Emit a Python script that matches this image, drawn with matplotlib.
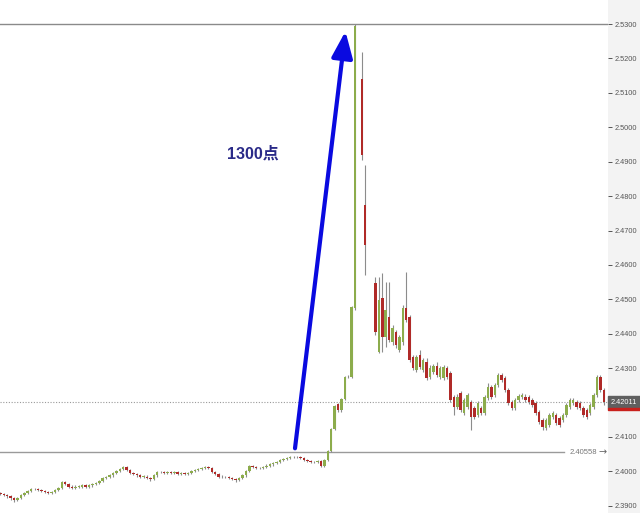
import matplotlib
matplotlib.use("Agg")
import matplotlib.pyplot as plt
from matplotlib.patches import Rectangle

# OHLC per bar (None = no bar)
opens = [
    2.3936, 2.3933, 2.3930, 2.3927, 2.3922, 2.3916, 2.3922, 2.3930, 2.3936, 2.3942,
    2.3948, 2.3948, 2.3945, 2.3942, 2.3939, 2.3936, 2.3939, 2.3945, 2.3953, 2.3968,
    2.3962, 2.3956, 2.3953, 2.3956, 2.3956, 2.3959, 2.3956, 2.3959, 2.3962, 2.3965,
    2.3971, 2.3980, 2.3983, 2.3988, 2.3994, 2.4000, 2.4006, 2.4012, 2.4003, 2.3994,
    2.3991, 2.3988, 2.3985, 2.3985, 2.3980, 2.3977, 2.3988, 2.3997, 2.3997, 2.3994,
    2.3997, 2.3994, 2.3997, 2.3991, 2.3994, 2.3991, 2.3994, 2.4000, 2.4003, 2.4006,
    2.4009, 2.4012, 2.4009, 2.3997, 2.3991, 2.3985, 2.3983, 2.3983, 2.3980, 2.3977,
    2.3974, 2.3980, 2.3988, 2.4000, 2.4015, 2.4012, 2.4009, 2.4009, 2.4012, 2.4017,
    2.4020, 2.4023, 2.4026, 2.4032, 2.4035, 2.4038, 2.4041, 2.4041, 2.4041, 2.4038,
    2.4032, 2.4029, 2.4026, 2.4026, 2.4029, 2.4017, 2.4032, 2.4058, 2.4122, 2.4195,
    2.4177, 2.4209, 2.4273, 2.4275, 2.4474, None, 2.5140, 2.4774, None, None,
    2.4547, 2.4347, 2.4503, 2.4390, 2.4448, 2.4376, 2.4405, 2.4352, 2.4376, 2.4474,
    2.4448, 2.4332, 2.4294, 2.4338, 2.4294, 2.4317, 2.4274, 2.4288, 2.4306, 2.4274,
    2.4271, 2.4300, 2.4285, 2.4216, 2.4187, 2.4227, 2.4169, 2.4187, 2.4201, 2.4184,
    2.4163, 2.4184, 2.4169, 2.4213, 2.4245, 2.4221, 2.4251, 2.4280, 2.4271, 2.4236,
    2.4201, 2.4184, 2.4207, 2.4216, 2.4216, 2.4216, 2.4207, 2.4198, 2.4172, 2.4149,
    2.4126, 2.4134, 2.4158, 2.4163, 2.4155, 2.4149, 2.4163, 2.4187, 2.4198, 2.4201,
    2.4198, 2.4184, 2.4178, 2.4169, 2.4187, 2.4221, 2.4274, 2.4236,
]
highs = [
    2.3939, 2.3936, 2.3933, 2.3930, 2.3925, 2.3925, 2.3933, 2.3939, 2.3945, 2.3951,
    2.3952, 2.3951, 2.3948, 2.3945, 2.3942, 2.3942, 2.3948, 2.3956, 2.3972, 2.3971,
    2.3965, 2.3959, 2.3959, 2.3960, 2.3962, 2.3962, 2.3962, 2.3965, 2.3968, 2.3974,
    2.3983, 2.3986, 2.3991, 2.3997, 2.4003, 2.4009, 2.4016, 2.4015, 2.4006, 2.3997,
    2.3994, 2.3991, 2.3989, 2.3988, 2.3983, 2.3991, 2.4000, 2.4001, 2.4000, 2.4000,
    2.4000, 2.4000, 2.4000, 2.3997, 2.3997, 2.3997, 2.4003, 2.4006, 2.4009, 2.4012,
    2.4016, 2.4015, 2.4012, 2.4000, 2.3994, 2.3988, 2.3987, 2.3986, 2.3983, 2.3980,
    2.3983, 2.3991, 2.4003, 2.4018, 2.4018, 2.4015, 2.4013, 2.4015, 2.4020, 2.4023,
    2.4026, 2.4029, 2.4035, 2.4038, 2.4041, 2.4044, 2.4045, 2.4045, 2.4044, 2.4041,
    2.4035, 2.4032, 2.4030, 2.4032, 2.4032, 2.4035, 2.4061, 2.4125, 2.4192, 2.4198,
    2.4212, 2.4276, 2.4279, 2.4480, 2.5300, None, 2.5219, 2.4890, None, None,
    2.4565, 2.4565, 2.4576, 2.4550, 2.4550, 2.4425, 2.4410, 2.4396, 2.4483, 2.4579,
    2.4454, 2.4338, 2.4338, 2.4352, 2.4329, 2.4329, 2.4309, 2.4312, 2.4317, 2.4306,
    2.4309, 2.4306, 2.4291, 2.4221, 2.4224, 2.4233, 2.4213, 2.4227, 2.4207, 2.4189,
    2.4204, 2.4189, 2.4221, 2.4256, 2.4251, 2.4256, 2.4285, 2.4285, 2.4277, 2.4242,
    2.4207, 2.4213, 2.4224, 2.4227, 2.4224, 2.4221, 2.4213, 2.4204, 2.4178, 2.4155,
    2.4155, 2.4169, 2.4175, 2.4169, 2.4161, 2.4169, 2.4198, 2.4213, 2.4213, 2.4207,
    2.4204, 2.4189, 2.4184, 2.4198, 2.4227, 2.4280, 2.4280, 2.4242,
]
lows = [
    2.3930, 2.3927, 2.3924, 2.3918, 2.3912, 2.3913, 2.3919, 2.3927, 2.3933, 2.3939,
    2.3945, 2.3942, 2.3939, 2.3936, 2.3933, 2.3933, 2.3936, 2.3942, 2.3950, 2.3959,
    2.3953, 2.3950, 2.3950, 2.3953, 2.3953, 2.3953, 2.3953, 2.3956, 2.3959, 2.3962,
    2.3968, 2.3977, 2.3980, 2.3985, 2.3991, 2.3997, 2.4003, 2.4000, 2.3991, 2.3988,
    2.3985, 2.3982, 2.3982, 2.3977, 2.3973, 2.3974, 2.3985, 2.3994, 2.3991, 2.3991,
    2.3991, 2.3991, 2.3988, 2.3988, 2.3988, 2.3988, 2.3991, 2.3997, 2.4000, 2.4003,
    2.4006, 2.4006, 2.3994, 2.3988, 2.3982, 2.3980, 2.3980, 2.3977, 2.3974, 2.3970,
    2.3971, 2.3977, 2.3985, 2.3997, 2.4009, 2.4006, 2.4006, 2.4006, 2.4009, 2.4014,
    2.4017, 2.4020, 2.4023, 2.4029, 2.4032, 2.4035, 2.4038, 2.4038, 2.4035, 2.4029,
    2.4026, 2.4023, 2.4023, 2.4023, 2.4014, 2.4014, 2.4029, 2.4055, 2.4119, 2.4174,
    2.4174, 2.4206, 2.4270, 2.4272, 2.4469, None, 2.4905, 2.4570, None, None,
    2.4396, 2.4344, 2.4347, 2.4361, 2.4376, 2.4367, 2.4358, 2.4347, 2.4367, 2.4434,
    2.4317, 2.4294, 2.4288, 2.4297, 2.4288, 2.4265, 2.4268, 2.4283, 2.4274, 2.4268,
    2.4265, 2.4268, 2.4201, 2.4163, 2.4181, 2.4172, 2.4163, 2.4181, 2.4120, 2.4152,
    2.4158, 2.4163, 2.4163, 2.4207, 2.4210, 2.4216, 2.4245, 2.4259, 2.4230, 2.4192,
    2.4178, 2.4178, 2.4201, 2.4210, 2.4201, 2.4195, 2.4187, 2.4163, 2.4137, 2.4120,
    2.4120, 2.4129, 2.4152, 2.4134, 2.4129, 2.4143, 2.4158, 2.4181, 2.4192, 2.4181,
    2.4178, 2.4158, 2.4152, 2.4163, 2.4181, 2.4216, 2.4230, 2.4192,
]
closes = [
    2.3933, 2.3930, 2.3927, 2.3922, 2.3916, 2.3922, 2.3930, 2.3936, 2.3942, 2.3948,
    2.3948, 2.3945, 2.3942, 2.3939, 2.3936, 2.3939, 2.3945, 2.3953, 2.3968, 2.3962,
    2.3956, 2.3953, 2.3956, 2.3956, 2.3959, 2.3956, 2.3959, 2.3962, 2.3965, 2.3971,
    2.3980, 2.3983, 2.3988, 2.3994, 2.4000, 2.4006, 2.4012, 2.4003, 2.3994, 2.3991,
    2.3988, 2.3985, 2.3985, 2.3980, 2.3977, 2.3988, 2.3997, 2.3997, 2.3994, 2.3997,
    2.3994, 2.3997, 2.3991, 2.3994, 2.3991, 2.3994, 2.4000, 2.4003, 2.4006, 2.4009,
    2.4012, 2.4009, 2.3997, 2.3991, 2.3985, 2.3983, 2.3983, 2.3980, 2.3977, 2.3974,
    2.3980, 2.3988, 2.4000, 2.4015, 2.4012, 2.4009, 2.4009, 2.4012, 2.4017, 2.4020,
    2.4023, 2.4026, 2.4032, 2.4035, 2.4038, 2.4041, 2.4041, 2.4041, 2.4038, 2.4032,
    2.4029, 2.4026, 2.4026, 2.4029, 2.4017, 2.4032, 2.4058, 2.4122, 2.4189, 2.4177,
    2.4209, 2.4273, 2.4275, 2.4477, 2.5294, None, 2.4919, 2.4658, None, None,
    2.4405, 2.4498, 2.4390, 2.4469, 2.4381, 2.4416, 2.4367, 2.4390, 2.4474, 2.4440,
    2.4323, 2.4300, 2.4332, 2.4303, 2.4323, 2.4271, 2.4300, 2.4306, 2.4280, 2.4300,
    2.4303, 2.4274, 2.4207, 2.4187, 2.4216, 2.4178, 2.4207, 2.4221, 2.4158, 2.4158,
    2.4198, 2.4169, 2.4216, 2.4245, 2.4216, 2.4251, 2.4280, 2.4265, 2.4236, 2.4198,
    2.4184, 2.4207, 2.4218, 2.4221, 2.4207, 2.4201, 2.4192, 2.4169, 2.4143, 2.4129,
    2.4149, 2.4163, 2.4169, 2.4140, 2.4134, 2.4163, 2.4192, 2.4207, 2.4207, 2.4187,
    2.4184, 2.4163, 2.4158, 2.4192, 2.4221, 2.4274, 2.4236, 2.4201,
]

y_ticks = [2.39, 2.40, 2.41, 2.42, 2.43, 2.44, 2.45, 2.46, 2.47, 2.48, 2.49,
           2.50, 2.51, 2.52, 2.53]
peak_level = 2.5300
breakout_level = 2.40558
last_price = 2.42011
move_label = "1300点"

GREEN = "#8cac4c"
RED = "#b02a28"
WICK = "#8c8c8c"
AXIS_FONT = ["Liberation Sans", "DejaVu Sans"]

fig = plt.figure(figsize=(6.4, 5.13), dpi=100)
fig.patch.set_facecolor("#f3f3f3")
ax = fig.add_axes([0, 0, 608 / 640, 1])
ax.set_facecolor("white")

for i, (o, h, l, c) in enumerate(zip(opens, highs, lows, closes)):
    if o is None:
        continue
    col = GREEN if c >= o else RED
    ax.vlines(i, l, h, color=WICK, lw=0.8, zorder=2)
    body = max(abs(c - o), 0.00018)
    ax.bar(i, body, bottom=min(o, c), width=0.72, color=col, lw=0, zorder=3)

ax.set_xlim(-0.12, 178.2)
ax.set_ylim(2.3879, 2.5370)

# reference lines
ax.axhline(peak_level, color="#8a8a8a", lw=1, zorder=1)
ax.axhline(breakout_level, xmax=0.928, color="#9a9a9a", lw=1, zorder=1)
ax.axhline(last_price, color="#9a9a9a", lw=0.8, ls=(0, (1, 1.5)), zorder=1)
ax.text(0.936, breakout_level, "2.40558", transform=ax.get_yaxis_transform(),
        fontsize=5.5, color="#777777", va="center", ha="left", family=AXIS_FONT)
ax.text(0.985, breakout_level, "\u2192", transform=ax.get_yaxis_transform(),
        fontsize=7, color="#666666", va="center", ha="left", family="DejaVu Sans")

# y axis on the right
ax.yaxis.tick_right()
ax.set_yticks(y_ticks)
ax.set_yticklabels(["" if abs(t - 2.42) < 1e-9 else f"{t:.4f}" for t in y_ticks],
                   family=AXIS_FONT)
ax.tick_params(axis="y", length=3, width=0.7, color="#555555", labelsize=5.3,
               labelcolor="#555555", pad=2)
ax.set_xticks([])
for s in ax.spines.values():
    s.set_visible(False)

# current price marker on the axis
y_last = ax.transData.transform((0, last_price))[1] / fig.bbox.height
fig.patches.append(Rectangle((608 / 640, y_last - 6 / 513), 32 / 640, 12 / 513,
                             transform=fig.transFigure, color="#5f5f5f", zorder=5))
fig.patches.append(Rectangle((608 / 640, y_last - 8 / 513), 32 / 640, 2 / 513,
                             transform=fig.transFigure, color="#c8201c", zorder=5))
fig.text(611 / 640, y_last, "2.42011", fontsize=5.3, color="white", va="center",
         ha="left", zorder=6, family=AXIS_FONT)

# blue arrow and label
ax.annotate("", xy=(101.2, 2.5279), xytext=(86.4, 2.4067),
            arrowprops=dict(arrowstyle="-|>,head_length=0.8,head_width=0.32",
                            mutation_scale=20, lw=3, color="#0a0ae0",
                            shrinkA=0, shrinkB=0), zorder=7)
ax.text(0.416, 0.700, move_label, transform=ax.transAxes, fontsize=11.5,
        fontweight="bold", color="#2a2a88", ha="center", va="center",
        family=["Liberation Sans", "Noto Sans CJK SC"])

fig.savefig("out.png", dpi=100)
